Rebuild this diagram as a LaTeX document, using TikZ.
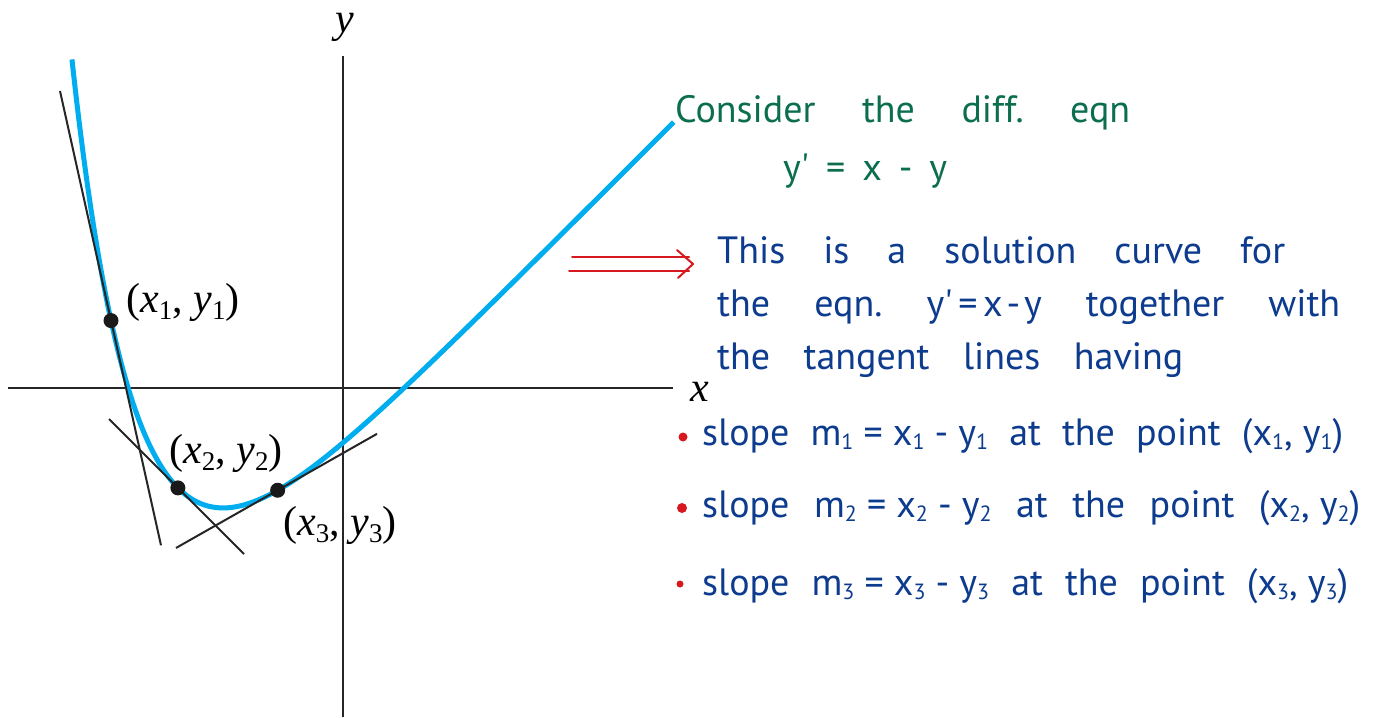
\documentclass[tikz,border=0pt]{standalone}
\usepackage{fontspec}
\setmainfont{Liberation Serif}
\newfontfamily\hand{PT Sans}
\definecolor{curvecol}{HTML}{00AEEF}
\definecolor{inkblue}{HTML}{0D3B8E}
\definecolor{inkgreen}{HTML}{0B6E4F}
\definecolor{inkred}{HTML}{D7191F}
\newcommand{\lsub}[1]{\raisebox{-0.17em}{\fontsize{27}{27}\selectfont #1}}
\newcommand{\ptl}[1]{(\textit{x}\lsub{#1}, \textit{y}\lsub{#1})}
\newcommand{\hsub}[1]{\raisebox{-0.12em}{\fontsize{22}{22}\selectfont #1}}
\begin{document}
\begin{tikzpicture}[x=1pt,y=-1pt,
  axis/.style={line width=2pt, draw=black!85},
  tline/.style={line width=2pt, draw=black!85},
  solcurve/.style={line width=5pt, draw=curvecol},
  dot/.style={circle, fill=black!90, inner sep=0pt, minimum size=15pt},
  lab/.style={font=\fontsize{42}{44}\selectfont, inner sep=0pt},
  hw/.style={font=\hand\fontsize{38}{40}\selectfont, inner sep=0pt, anchor=base west},
  bul/.style={circle, fill=inkred, inner sep=0pt},
  arrowred/.style={draw=inkred, line width=2pt, line cap=round, line join=round}]
\useasboundingbox (0,0) rectangle (1375,717);
\fill[white] (0,0) rectangle (1375,717);
% axes
\coordinate (xl) at (8,388); \coordinate (xr) at (673,388);
\coordinate (yb) at (343,717); \coordinate (yt) at (343,56);
\draw[axis] (xl) -- (xr);
\draw[axis] (yb) -- (yt);
\node[lab] (xlab) at (700,392) {\textit{x}};
\node[lab] (ylab) at (345,27) {\textit{y}};
% curve and tangents
\begin{scope}[shift={(343,388)}, x=65pt, y=65pt]
  \draw[solcurve] plot[domain=-4.17:5.09, samples=160, smooth, variable=\t] (\t, {\t - 1 + 0.158*exp(-\t)});
  \coordinate (t1a) at (-4.354, 4.570); \coordinate (t1b) at (-2.8, -2.420);
  \coordinate (t2a) at (-3.6, -0.477);  \coordinate (t2b) at (-1.523, -2.554);
  \coordinate (t3a) at (-2.569, -2.461); \coordinate (t3b) at (0.523, -0.705);
  \draw[tline] (t1a) -- (t1b);
  \draw[tline] (t2a) -- (t2b);
  \draw[tline] (t3a) -- (t3b);
  \node[dot] (p1) at (-3.569, 1.037) {};
  \node[dot] (p2) at (-2.54, -1.537) {};
  \node[dot] (p3) at (-1.005, -1.573) {};
\end{scope}
\node[lab] (l1) at (183,302) {\ptl{1}};
\node[lab] (l2) at (226,453) {\ptl{2}};
\node[lab] (l3) at (340,525) {\ptl{3}};
% red arrow
\coordinate (a1) at (572,257); \coordinate (a2) at (689,257);
\coordinate (b1) at (569,271); \coordinate (b2) at (689,271);
\coordinate (c1) at (677,250); \coordinate (tip) at (693,264); \coordinate (c2) at (678,278);
\draw[arrowred] (a1) -- (a2);
\draw[arrowred] (b1) -- (b2);
\draw[arrowred] (c1) -- (tip) -- (c2);
% green text
\node[hw, text=inkgreen] (g1) at (675,122) {\hbox to 455pt{Consider\hfill the\hfill diff.\hfill eqn}};
\node[hw, text=inkgreen] (g2) at (783,180) {\hbox to 164pt{y'\hfill=\hfill x\hfill-\hfill y}};
% blue text
\node[hw, text=inkblue] (b3) at (717,263) {\hbox to 568pt{This\hfill is\hfill a\hfill solution\hfill curve\hfill for}};
\node[hw, text=inkblue] (b4) at (717,316) {\hbox to 623pt{the\hfill eqn.\hfill y'\hspace{0.15em}=\hspace{0.15em}x\hspace{0.1em}-\hspace{0.1em}y\hfill together\hfill with}};
\node[hw, text=inkblue] (b5) at (717,369) {\hbox to 466pt{the\hfill tangent\hfill lines\hfill having}};
% bullets
\node[bul, minimum size=9pt] (d1) at (683,437) {};
\node[bul, minimum size=10pt] (d2) at (682,508) {};
\node[bul, minimum size=7pt] (d3) at (680,584) {};
\node[hw, text=inkblue] (s1) at (702,445) {\hbox to 641pt{slope\hfill m\hsub{1} = x\hsub{1} - y\hsub{1}\hfill at\hfill the\hfill point\hfill (x\hsub{1}, y\hsub{1})}};
\node[hw, text=inkblue] (s2) at (702,517) {\hbox to 658pt{slope\hfill m\hsub{2} = x\hsub{2} - y\hsub{2}\hfill at\hfill the\hfill point\hfill (x\hsub{2}, y\hsub{2})}};
\node[hw, text=inkblue] (s3) at (702,595) {\hbox to 646pt{slope\hfill m\hsub{3} = x\hsub{3} - y\hsub{3}\hfill at\hfill the\hfill point\hfill (x\hsub{3}, y\hsub{3})}};
\end{tikzpicture}
\end{document}
